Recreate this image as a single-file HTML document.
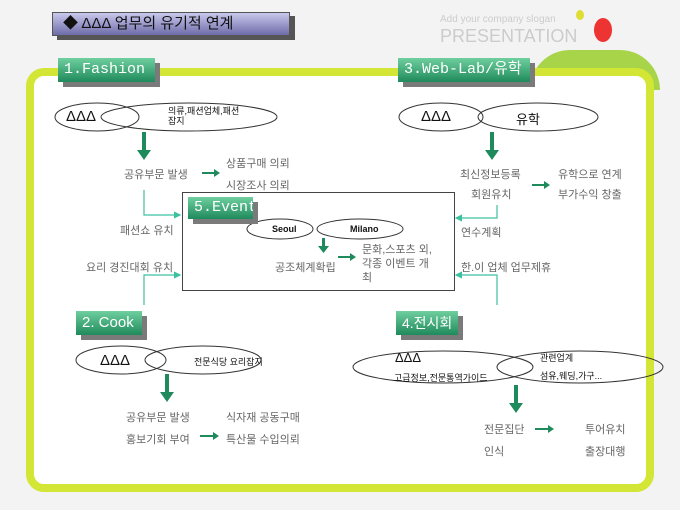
<!DOCTYPE html>
<html><head><meta charset="utf-8"><style>
body{margin:0;width:680px;height:510px;background:#f3f3f3;position:relative;overflow:hidden;font-family:"Liberation Sans","Noto Sans CJK KR",sans-serif}
.a{position:absolute}
.lbl{position:absolute;background:linear-gradient(#6fcf9e,#1f8a5c);color:#fff;font-size:15px;line-height:24px;padding-left:6px;box-shadow:5px 5px 0 #7a7a7a;font-family:"Liberation Mono","Noto Sans CJK KR",monospace;white-space:nowrap;overflow:hidden}
.t{position:absolute;font-size:11px;color:#666;white-space:nowrap}
</style></head><body>
<div class="a" style="left:440px;top:14px;font-size:10px;color:#ccc">Add your company slogan</div>
<div class="a" style="left:440px;top:26px;font-size:18px;color:#ccc">PRESENTATION</div>
<div class="a" style="left:530px;top:50px;width:130px;height:40px;background:#a8d44a;border-radius:60px 60px 0 0"></div>
<div class="a" style="left:594px;top:18px;width:18px;height:24px;background:#e33;border-radius:50%"></div>
<div class="a" style="left:576px;top:10px;width:8px;height:10px;background:#dd3;border-radius:50%"></div>
<div class="a" style="left:52px;top:12px;width:226px;height:22px;background:linear-gradient(#c9c8ec,#6e6ca8);box-shadow:5px 4px 0 #555;border:1px solid #555;font-size:15px;line-height:22px;color:#111;padding-left:10px">◆ ΔΔΔ 업무의 유기적 연계</div>
<div class="a" style="left:26px;top:68px;width:612px;height:408px;border:8px solid #d3e635;border-radius:18px;background:#fff;overflow:hidden"></div>
<svg class="a" style="left:0;top:0" width="680" height="510">
<defs><marker id="m" markerWidth="6" markerHeight="6" refX="5" refY="3" orient="auto"><path d="M0,0L6,3L0,6z" fill="#3cc0a0"/></marker></defs>
<g fill="none" stroke="#333" stroke-width="1">
<ellipse cx="97" cy="117" rx="42" ry="14"/><ellipse cx="189" cy="117" rx="88" ry="14"/>
<ellipse cx="441" cy="117" rx="42" ry="14"/><ellipse cx="538" cy="117" rx="60" ry="14"/>
<ellipse cx="121" cy="360" rx="45" ry="14"/><ellipse cx="203" cy="360" rx="58" ry="14"/>
<ellipse cx="443" cy="367" rx="90" ry="16"/><ellipse cx="580" cy="367" rx="83" ry="16"/>
</g>
<g stroke="#3cc0a0" fill="none" stroke-width="1.2">
<path d="M144,190V215H180" marker-end="url(#m)"/>
<path d="M144,305V275H180" marker-end="url(#m)"/>
<path d="M497,205V218H456" marker-end="url(#m)"/>
<path d="M497,305V275H456" marker-end="url(#m)"/>
</g>
<g fill="#1f8a5c">
<rect x="142" y="132" width="4" height="20"/><path d="M137,150h14l-7,10z"/>
<rect x="490" y="132" width="4" height="20"/><path d="M485,150h14l-7,10z"/>
<rect x="165" y="374" width="4" height="20"/><path d="M160,392h14l-7,10z"/>
<rect x="514" y="385" width="4" height="20"/><path d="M509,403h14l-7,10z"/>
<path d="M202,172h12v-3l6,4l-6,4v-3h-12z"/>
<path d="M532,184h12v-3l6,4l-6,4v-3h-12z"/>
<path d="M200,435h13v-3l6,4l-6,4v-3h-13z"/>
<path d="M535,428h13v-3l6,4l-6,4v-3h-13z"/>
</g>
</svg>
<div class="a" style="left:182px;top:192px;width:271px;height:97px;border:1px solid #444;background:#fff"></div>
<svg class="a" style="left:0;top:0" width="680" height="510">
<g fill="none" stroke="#333"><ellipse cx="280" cy="229" rx="33" ry="10"/><ellipse cx="360" cy="229" rx="43" ry="10"/></g>
<g fill="#1f8a5c"><rect x="322" y="238" width="3" height="10"/><path d="M318,246h11l-5.5,7z"/><path d="M338,256h12v-3l6,4l-6,4v-3h-12z"/></g>
</svg>
<div class="lbl" style="left:58px;top:58px;width:91px">1.Fashion</div>
<div class="lbl" style="left:398px;top:58px;width:126px">3.Web-Lab/유학</div>
<div class="lbl" style="left:76px;top:311px;width:60px;font-family:'Liberation Sans',sans-serif">2. Cook</div>
<div class="lbl" style="left:396px;top:311px;width:56px;height:24px;font-size:14px;font-family:'Liberation Sans','Noto Sans CJK KR',sans-serif">4.전시회</div>
<div class="lbl" style="left:188px;top:197px;width:59px;height:22px;line-height:22px">5.Event</div>
<div class="t" style="left:66px;top:108px;font-size:15px;color:#111">ΔΔΔ</div>
<div class="t" style="left:168px;top:106px;font-size:9px;color:#111;line-height:10px">의류,패션업체,패션<br>잡지</div>
<div class="t" style="left:421px;top:108px;font-size:15px;color:#111">ΔΔΔ</div>
<div class="t" style="left:516px;top:109px;font-size:13px;color:#111">유학</div>
<div class="t" style="left:100px;top:352px;font-size:15px;color:#111">ΔΔΔ</div>
<div class="t" style="left:194px;top:355px;font-size:9px;color:#111">전문식당 요리잡지</div>
<div class="t" style="left:395px;top:350px;font-size:13px;color:#111">ΔΔΔ</div>
<div class="t" style="left:394px;top:371px;font-size:9px;color:#111">고급정보,전문통역가이드</div>
<div class="t" style="left:540px;top:351px;font-size:9px;color:#111">관련업계</div>
<div class="t" style="left:540px;top:369px;font-size:9px;color:#111">섬유,웨딩,가구...</div>
<div class="t" style="left:272px;top:224px;font-size:9px;color:#111;font-weight:bold">Seoul</div>
<div class="t" style="left:350px;top:224px;font-size:9px;color:#111;font-weight:bold">Milano</div>
<div class="t" style="left:124px;top:166px">공유부문 발생</div>
<div class="t" style="left:226px;top:155px">상품구매 의뢰</div>
<div class="t" style="left:226px;top:177px">시장조사 의뢰</div>
<div class="t" style="left:120px;top:222px">패션쇼 유치</div>
<div class="t" style="left:86px;top:259px">요리 경진대회 유치</div>
<div class="t" style="left:275px;top:259px">공조체계확립</div>
<div class="t" style="left:362px;top:243px;line-height:14px">문화,스포츠 외,<br>각종 이벤트 개<br>최</div>
<div class="t" style="left:460px;top:166px">최신정보등록</div>
<div class="t" style="left:471px;top:186px">회원유치</div>
<div class="t" style="left:558px;top:166px">유학으로 연계</div>
<div class="t" style="left:558px;top:186px">부가수익 창출</div>
<div class="t" style="left:461px;top:224px">연수계획</div>
<div class="t" style="left:461px;top:259px">한.이 업체 업무제휴</div>
<div class="t" style="left:126px;top:409px">공유부문 발생</div>
<div class="t" style="left:126px;top:431px">홍보기회 부여</div>
<div class="t" style="left:226px;top:409px">식자재 공동구매</div>
<div class="t" style="left:226px;top:431px">특산물 수입의뢰</div>
<div class="t" style="left:484px;top:421px">전문집단</div>
<div class="t" style="left:484px;top:443px">인식</div>
<div class="t" style="left:585px;top:421px">투어유치</div>
<div class="t" style="left:585px;top:443px">출장대행</div>
</body></html>
